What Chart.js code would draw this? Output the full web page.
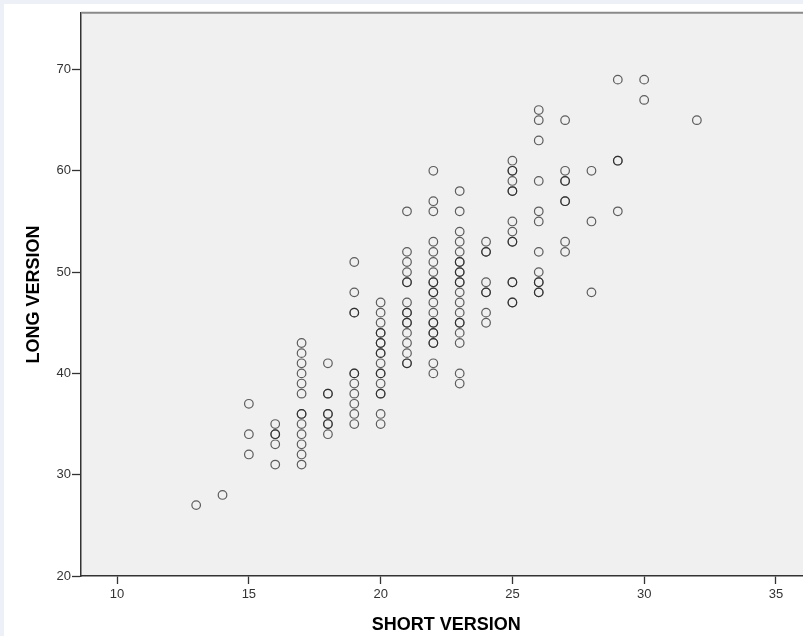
<!DOCTYPE html>
<html>
<head>
<meta charset="utf-8">
<script src="https://cdn.jsdelivr.net/npm/chart.js@4/dist/chart.umd.min.js"></script>
<style>
  html, body { margin: 0; padding: 0; background: #eef0f7; }
  #wrap { position: absolute; left: 4px; top: 4px; width: 799px; height: 632px; background: #ffffff; overflow: hidden; }
  canvas { display: block; }
</style>
</head>
<body>
<div id="wrap"><canvas id="c" width="813" height="632"></canvas></div>
<script>
// SHORT VERSION score of each respondent
const shortVersion = [
  13,
  14,
  15, 15, 15,
  16, 16, 16, 16, 16,
  17, 17, 17, 17, 17, 17, 17, 17, 17, 17, 17, 17, 17,
  18, 18, 18, 18, 18, 18, 18, 18,
  19, 19, 19, 19, 19, 19, 19, 19, 19, 19, 19,
  20, 20, 20, 20, 20, 20, 20, 20, 20, 20, 20, 20, 20, 20, 20, 20, 20,
  21, 21, 21, 21, 21, 21, 21, 21, 21, 21, 21, 21, 21, 21, 21, 21,
  22, 22, 22, 22, 22, 22, 22, 22, 22, 22, 22, 22, 22, 22, 22, 22, 22, 22, 22, 22, 22,
  23, 23, 23, 23, 23, 23, 23, 23, 23, 23, 23, 23, 23, 23, 23, 23, 23, 23, 23, 23,
  24, 24, 24, 24, 24, 24, 24, 24,
  25, 25, 25, 25, 25, 25, 25, 25, 25, 25, 25, 25, 25, 25,
  26, 26, 26, 26, 26, 26, 26, 26, 26, 26, 26, 26,
  27, 27, 27, 27, 27, 27, 27, 27,
  28, 28, 28,
  29, 29, 29, 29,
  30, 30,
  32
];
// LONG VERSION score of the same respondents (same order)
const longVersion = [
  27,
  28,
  37, 34, 32,
  35, 34, 34, 33, 31,
  43, 42, 41, 40, 39, 38, 36, 36, 35, 34, 33, 32, 31,
  41, 38, 38, 36, 36, 35, 35, 34,
  51, 48, 46, 46, 40, 40, 39, 38, 37, 36, 35,
  47, 46, 45, 44, 44, 43, 43, 42, 42, 41, 40, 40, 39, 38, 38, 36, 35,
  56, 52, 51, 50, 49, 49, 47, 46, 46, 45, 45, 44, 43, 42, 41, 41,
  60, 57, 56, 53, 52, 51, 50, 49, 49, 48, 48, 47, 46, 45, 45, 44, 44, 43, 43, 41, 40,
  58, 56, 54, 53, 52, 51, 51, 50, 50, 49, 49, 48, 47, 46, 45, 45, 44, 43, 40, 39,
  53, 52, 52, 49, 48, 48, 46, 45,
  61, 60, 60, 59, 58, 58, 55, 54, 53, 53, 49, 49, 47, 47,
  66, 65, 63, 59, 56, 55, 52, 50, 49, 49, 48, 48,
  65, 60, 59, 59, 57, 57, 53, 52,
  60, 55, 48,
  69, 61, 61, 56,
  69, 67,
  65
];
const xTicks = [10, 15, 20, 25, 30, 35];
const yTicks = [20, 30, 40, 50, 60, 70];
const xTitle = 'SHORT VERSION';
const yTitle = 'LONG VERSION';

const points = shortVersion.map((s, i) => ({ x: s, y: longVersion[i] }));

const plotBg = {
  id: 'plotBg',
  beforeDraw(chart) {
    const { ctx, chartArea: a } = chart;
    ctx.save();
    ctx.fillStyle = '#f0f0f0';
    ctx.fillRect(a.left, a.top, a.right - a.left, a.bottom - a.top);
    ctx.restore();
  },
  afterDraw(chart) {
    const { ctx, chartArea: a } = chart;
    ctx.save();
    ctx.strokeStyle = '#8a8a8a';
    ctx.lineWidth = 2;
    ctx.beginPath();
    ctx.moveTo(a.left, a.top);
    ctx.lineTo(a.right, a.top);
    ctx.stroke();
    ctx.restore();
  }
};

new Chart(document.getElementById('c'), {
  type: 'scatter',
  data: {
    datasets: [{
      data: points,
      pointStyle: 'circle',
      pointRadius: 4.3,
      pointHoverRadius: 4.3,
      borderWidth: 1.2,
      borderColor: 'rgba(30,30,30,0.7)',
      backgroundColor: 'rgba(0,0,0,0)'
    }]
  },
  options: {
    responsive: false,
    animation: false,
    devicePixelRatio: 1,
    layout: { padding: { top: 7, left: 0, right: 0, bottom: 0 } },
    plugins: { legend: { display: false }, tooltip: { enabled: false } },
    scales: {
      x: {
        type: 'linear',
        min: 8.63,
        max: 36.35,
        afterBuildTicks: s => { s.ticks = xTicks.map(v => ({ value: v })); },
        afterFit: s => { s.height = 60; },
        grid: { display: true, drawOnChartArea: false, drawTicks: true, tickLength: 8, tickColor: '#333', tickWidth: 1.3 },
        border: { display: true, color: '#333', width: 1.5 },
        ticks: { color: '#333', padding: 3, font: { family: 'Liberation Sans, Arial, sans-serif', size: 13 }, maxRotation: 0 },
        title: { display: true, text: xTitle, color: '#000', padding: { top: 0, bottom: 0 },
                 font: { family: 'Liberation Sans, Arial, sans-serif', size: 18, weight: 'bold' } }
      },
      y: {
        type: 'linear',
        min: 20,
        max: 75.6,
        afterBuildTicks: s => { s.ticks = yTicks.map(v => ({ value: v })); },
        afterFit: s => { s.width = 77; },
        grid: { display: true, drawOnChartArea: false, drawTicks: true, tickLength: 9, tickColor: '#333', tickWidth: 1.3 },
        border: { display: true, color: '#333', width: 1.5 },
        ticks: { color: '#333', padding: 1, font: { family: 'Liberation Sans, Arial, sans-serif', size: 13 } },
        title: { display: true, text: yTitle, color: '#000', padding: { top: 19, bottom: 0 },
                 font: { family: 'Liberation Sans, Arial, sans-serif', size: 18, weight: 'bold' } }
      }
    }
  },
  plugins: [plotBg]
});
</script>
</body>
</html>
